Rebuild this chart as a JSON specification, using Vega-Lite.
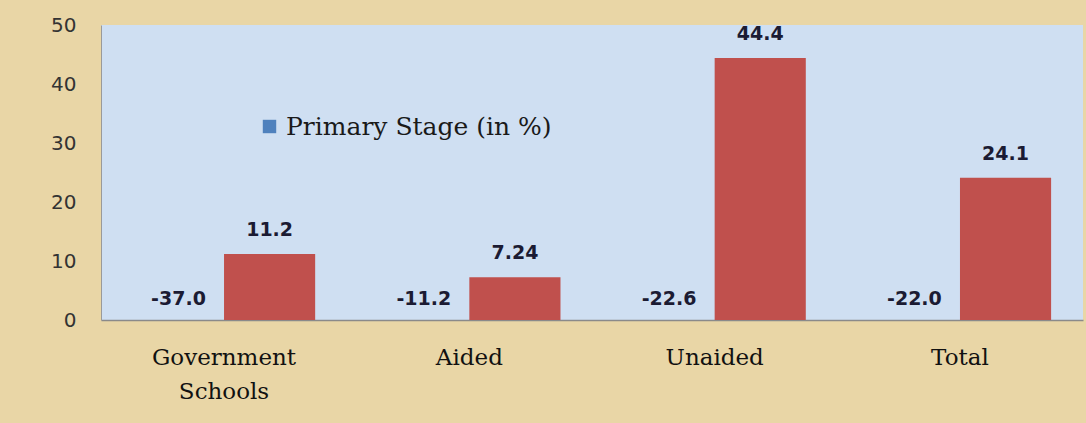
{
  "$schema": "https://vega.github.io/schema/vega-lite/v6.json",
  "width": 982,
  "height": 295,
  "autosize": {"type": "none"},
  "padding": {"left": 101, "top": 25, "right": 3, "bottom": 103},
  "background": "#e9d6a6",
  "config": {
    "view": {"fill": "#cfdff2", "stroke": null}
  },
  "data": {
    "values": [
      {"category": "Government Schools", "series": "Primary Stage (in %)", "value": -37.0, "label": "-37.0"},
      {"category": "Government Schools", "series": "Series 2", "value": 11.2, "label": "11.2"},
      {"category": "Aided", "series": "Primary Stage (in %)", "value": -11.2, "label": "-11.2"},
      {"category": "Aided", "series": "Series 2", "value": 7.24, "label": "7.24"},
      {"category": "Unaided", "series": "Primary Stage (in %)", "value": -22.6, "label": "-22.6"},
      {"category": "Unaided", "series": "Series 2", "value": 44.4, "label": "44.4"},
      {"category": "Total", "series": "Primary Stage (in %)", "value": -22.0, "label": "-22.0"},
      {"category": "Total", "series": "Series 2", "value": 24.1, "label": "24.1"}
    ]
  },
  "encoding": {
    "x": {
      "field": "category",
      "type": "nominal",
      "sort": ["Government Schools", "Aided", "Unaided", "Total"],
      "scale": {"paddingInner": 0.257, "paddingOuter": 0.13},
      "axis": {
        "title": null,
        "labelAngle": 0,
        "ticks": false,
        "domainColor": "#8a8a8a",
        "domainWidth": 1.5,
        "labelFont": "DejaVu Serif",
        "labelFontSize": 23,
        "labelColor": "#111111",
        "labelPadding": 26,
        "labelBaseline": "top",
        "labelLineHeight": 34,
        "labelExpr": "split(datum.value, ' ')"
      }
    },
    "xOffset": {"field": "series", "type": "nominal", "sort": ["Primary Stage (in %)", "Series 2"]}
  },
  "layer": [
    {
      "mark": {"type": "bar", "clip": true},
      "encoding": {
        "y": {
          "field": "value",
          "type": "quantitative",
          "scale": {"domain": [0, 50], "nice": false},
          "axis": {
            "title": null,
            "values": [0, 10, 20, 30, 40, 50],
            "grid": false,
            "ticks": false,
            "domainColor": "#9a9a9a",
            "labelFont": "DejaVu Sans",
            "labelFontSize": 20,
            "labelColor": "#333333",
            "labelPadding": 25
          }
        },
        "color": {
          "field": "series",
          "type": "nominal",
          "scale": {"domain": ["Primary Stage (in %)", "Series 2"], "range": ["#4f81bd", "#c0504d"]},
          "legend": {
            "title": null,
            "values": ["Primary Stage (in %)"],
            "orient": "none",
            "legendX": 156,
            "legendY": 89,
            "padding": 0,
            "symbolType": "square",
            "symbolSize": 180,
            "symbolStrokeWidth": 0,
            "symbolOpacity": 1,
            "labelFont": "DejaVu Serif",
            "labelFontSize": 25,
            "labelColor": "#1a1a1a",
            "labelLimit": 400,
            "labelOffset": 4
          }
        }
      }
    },
    {
      "transform": [{"filter": "datum.series == 'Series 2'"}],
      "mark": {"type": "text", "font": "DejaVu Sans", "fontWeight": "bold", "fontSize": 19, "color": "#1b1b33", "baseline": "alphabetic", "dy": -18},
      "encoding": {
        "y": {"field": "value", "type": "quantitative"},
        "text": {"field": "label", "type": "nominal"}
      }
    },
    {
      "transform": [{"filter": "datum.series == 'Primary Stage (in %)'"}],
      "mark": {"type": "text", "font": "DejaVu Sans", "fontWeight": "bold", "fontSize": 19, "color": "#1b1b33", "baseline": "alphabetic", "dy": -15},
      "encoding": {
        "y": {"datum": 0, "type": "quantitative"},
        "text": {"field": "label", "type": "nominal"}
      }
    }
  ]
}
